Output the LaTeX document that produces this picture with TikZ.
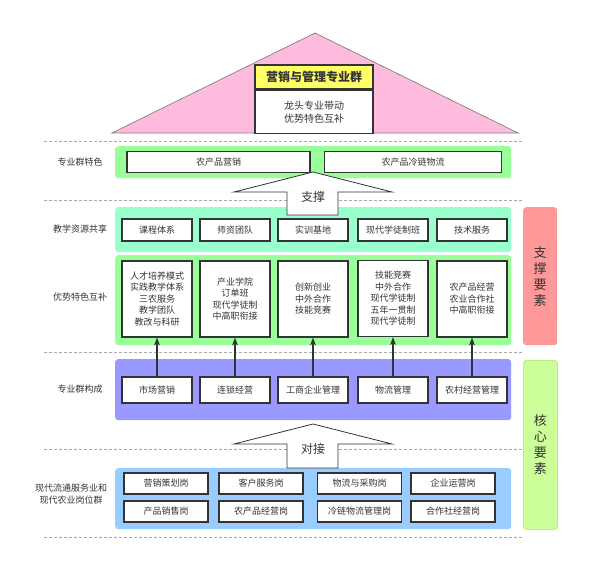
\documentclass[tikz,border=0pt]{standalone}
\usepackage{fontspec}
\setmainfont{Noto Sans CJK SC}
\usepackage{tikz}
\usetikzlibrary{arrows.meta,positioning,calc}
\definecolor{roofpink}{RGB}{255,187,221}
\definecolor{titleyellow}{RGB}{255,255,102}
\definecolor{bandgreen}{RGB}{153,255,153}
\definecolor{bandmint}{RGB}{153,255,204}
\definecolor{bandpurple}{RGB}{153,153,255}
\definecolor{bandblue}{RGB}{153,204,255}
\definecolor{barsalmon}{RGB}{255,153,153}
\definecolor{barlime}{RGB}{204,255,153}
\definecolor{limeline}{RGB}{185,240,125}
\definecolor{inkgray}{RGB}{51,51,51}
\definecolor{dashgray}{RGB}{170,170,170}

\begin{document}
\begin{tikzpicture}[
    x=1pt, y=-1pt,
    every node/.style={font=\fontsize{9}{11.5}\selectfont, text=inkgray},
    band/.style={rounded corners=3pt, anchor=north west, inner sep=0pt,
                 minimum width=396pt},
    sidebar/.style={rounded corners=3pt, anchor=north west, inner sep=0pt,
                    minimum width=34pt, align=center,
                    font=\fontsize{13}{16}\selectfont},
    box/.style={draw=inkgray, line width=1.2pt, fill=white, inner sep=1pt,
                minimum width=70pt, minimum height=22pt, align=center},
    jobbox/.style={box, minimum width=84pt, minimum height=21pt},
    rowlabel/.style={align=center},
    sepline/.style={draw=dashgray, dashed, dash pattern=on 3pt off 2pt, line width=0.6pt},
    blockarrow/.style={draw=inkgray, fill=white, line width=0.8pt, line join=miter},
    arrowlabel/.style={font=\fontsize{12}{14}\selectfont},
    uparrow/.style={draw=inkgray, line width=1.3pt, -{Stealth[length=8pt, width=6pt]}},
]
    \useasboundingbox (0,0) rectangle (599,586);

    % roof
    \coordinate (roofleft) at (112,133);
    \coordinate (apex) at (315,33);
    \coordinate (roofright) at (518,133);
    \draw[fill=roofpink, draw=gray, line width=0.7pt] (roofleft) -- (apex) -- (roofright) -- cycle;
    \node[draw=inkgray, line width=1.2pt, fill=titleyellow, minimum width=118pt, minimum height=24pt,
          inner sep=0pt, font=\fontsize{12}{14}\selectfont\bfseries] (title) at (314,77) {营销与管理专业群};
    \node[draw=inkgray, line width=1.2pt, fill=white, minimum width=118pt, minimum height=43pt,
          inner sep=0pt, align=center, font=\fontsize{10}{13}\selectfont,
          below=0pt of title] (motto) {龙头专业带动\\优势特色互补};

    % separators
    \foreach \y in {141,200,352,449,537}
        \draw[sepline] (44,\y) -- (523,\y);

    % bands
    \node[band, fill=bandgreen, minimum height=32pt] (featband) at (115,146) {};
    \node[band, fill=bandmint, minimum height=45pt] (resband) at (115,207) {};
    \node[band, fill=bandgreen, minimum height=90pt] (advband) at (115,255) {};
    \node[band, fill=bandpurple, minimum height=61pt] (majorband) at (115,359) {};
    \node[band, fill=bandblue, minimum height=61pt] (jobband) at (115,468) {};

    \node[sidebar, fill=barsalmon, minimum height=138pt] (supportbar) at (523,207) {};
    \node[align=center, font=\fontsize{13}{16}\selectfont] at (supportbar.center) {支\\撑\\要\\素};
    \node[sidebar, fill=barlime, draw=limeline, line width=0.8pt, minimum height=169pt] (corebar) at (523,360) {};
    \node[align=center, font=\fontsize{13}{16}\selectfont] at (corebar.center) {核\\心\\要\\素};

    % row labels
    \node[rowlabel] (featlabel) at (80,162) {专业群特色};
    \node[rowlabel] (reslabel) at (80,229) {教学资源共享};
    \node[rowlabel] (advlabel) at (80,297) {优势特色互补};
    \node[rowlabel] (majorlabel) at (80,389) {专业群构成};
    \node[rowlabel, font=\fontsize{9}{12}\selectfont] (joblabel) at (71,494) {现代流通服务业和\\现代农业岗位群};

    % feature row
    \node[box, minimum width=183pt, minimum height=21pt] (feat1) at (218.5,162) {农产品营销};
    \node[box, minimum width=177pt, minimum height=21pt] (feat2) at (413,162) {农产品冷链物流};

    % resource row
    \node[box] (res1) at (157,230) {课程体系};
    \node[box] (res2) at (235,230) {师资团队};
    \node[box] (res3) at (313,230) {实训基地};
    \node[box] (res4) at (393,230) {现代学徒制班};
    \node[box] (res5) at (472,230) {技术服务};

    % advantage row
    \node[box, minimum height=76pt] (adv1) at (157,299) {人才培养模式\\实践教学体系\\三农服务\\教学团队\\教改与科研};
    \node[box, minimum height=76pt] (adv2) at (235,299) {产业学院\\订单班\\现代学徒制\\中高职衔接};
    \node[box, minimum height=76pt] (adv3) at (313,299) {创新创业\\中外合作\\技能竞赛};
    \node[box, minimum height=76pt] (adv4) at (393,298.5) {技能竞赛\\中外合作\\现代学徒制\\五年一贯制\\现代学徒制};
    \node[box, minimum height=76pt] (adv5) at (472,299) {农产品经营\\农业合作社\\中高职衔接};

    % major row
    \node[box, minimum height=26pt] (major1) at (157,390) {市场营销};
    \node[box, minimum height=26pt] (major2) at (235,390) {连锁经营};
    \node[box, minimum height=26pt] (major3) at (313,390) {工商企业管理};
    \node[box, minimum height=26pt] (major4) at (393,390) {物流管理};
    \node[box, minimum height=26pt] (major5) at (472,390) {农村经营管理};

    \draw[uparrow] (major1.north) -- (adv1.south);
    \draw[uparrow] (major2.north) -- (adv2.south);
    \draw[uparrow] (major3.north) -- (adv3.south);
    \draw[uparrow] (major4.north) -- (adv4.south);
    \draw[uparrow] (major5.north) -- (adv5.south);

    % job rows
    \node[jobbox] (job1) at (166,483.5) {营销策划岗};
    \node[jobbox] (job2) at (261,483.5) {客户服务岗};
    \node[jobbox] (job3) at (359.5,483.5) {物流与采购岗};
    \node[jobbox] (job4) at (453,483.5) {企业运营岗};
    \node[jobbox] (job5) at (166,511.5) {产品销售岗};
    \node[jobbox] (job6) at (261,511.5) {农产品经营岗};
    \node[jobbox] (job7) at (359.5,511.5) {冷链物流管理岗};
    \node[jobbox] (job8) at (453,511.5) {合作社经营岗};

    % block arrows
    \draw[blockarrow] (313,172) -- (392,192) -- (338,192) -- (338,215)
        -- (287,215) -- (287,192) -- (234,192) -- cycle;
    \node[arrowlabel] (support) at (313,197) {支撑};
    \draw[blockarrow] (313,424) -- (392,444) -- (338,444) -- (338,468)
        -- (287,468) -- (287,444) -- (234,444) -- cycle;
    \node[arrowlabel] (docking) at (313,449) {对接};
\end{tikzpicture}
\end{document}
